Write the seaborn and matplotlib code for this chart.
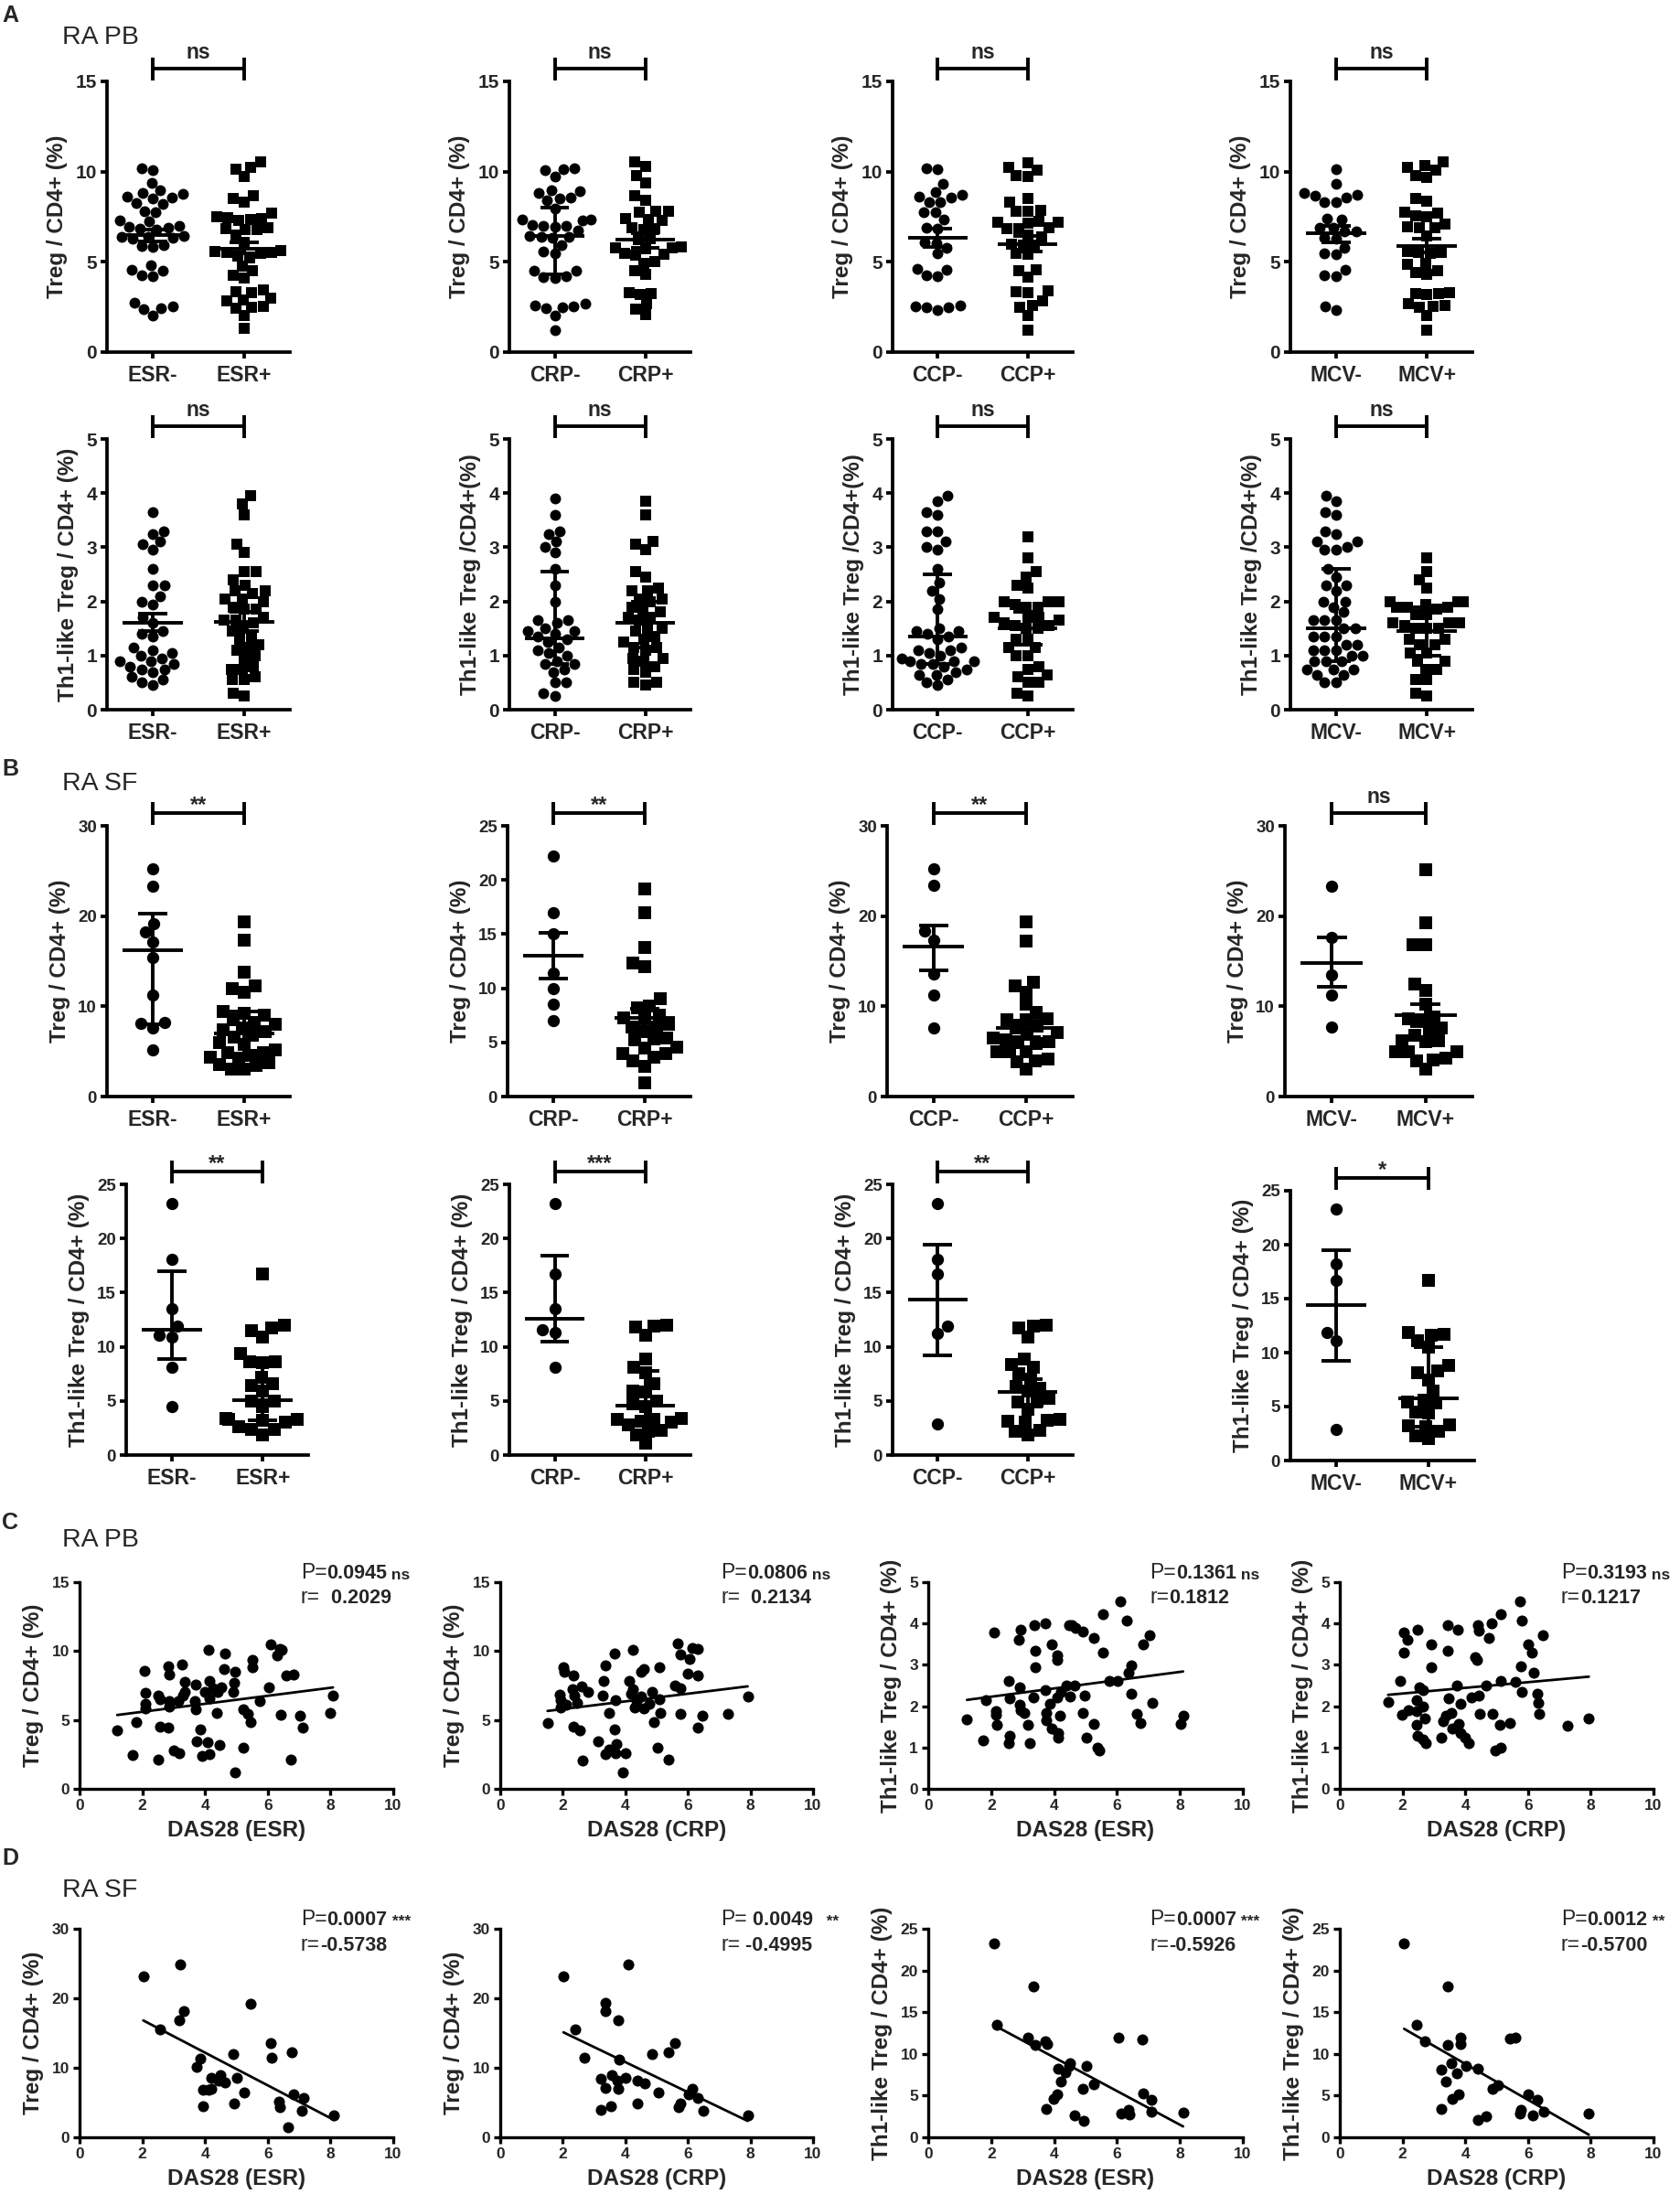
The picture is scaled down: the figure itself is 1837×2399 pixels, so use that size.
import numpy as np
import pandas as pd
import matplotlib
matplotlib.use("Agg")
import matplotlib.pyplot as plt
import seaborn as sns

# ---------------------------------------------------------------- data
categories = [("ESR-", "ESR+"), ("CRP-", "CRP+"), ("CCP-", "CCP+"), ("MCV-", "MCV+")]

# A, row 1: RA PB Treg / CD4+ (%)
pb_treg_esr_neg = [10.2,10.1,9.35,8.95,8.8,8.75,8.6,8.55,8.5,8.25,8.2,7.8,7.75,7.3,7.25,7.0,6.95,6.9,6.85,6.8,6.45,6.4,6.4,6.35,6.3,5.95,5.9,5.85,4.8,4.55,4.5,4.25,4.2,2.75,2.55,2.45,2.4,2.05]
pb_treg_esr_pos = [10.55,10.25,10.15,9.75,8.65,8.5,8.3,7.7,7.5,7.45,7.4,7.35,7.3,6.9,6.85,6.8,6.8,6.5,6.1,5.6,5.55,5.5,5.5,5.45,5.3,5.2,4.75,4.5,4.25,4.1,3.45,3.35,3.3,3.0,2.9,2.85,2.55,2.5,2.45,2.05,1.3]
pb_treg_crp_neg = [10.2,10.15,10.1,9.75,8.95,8.9,8.8,8.55,8.5,8.4,7.95,7.35,7.35,7.3,7.05,7.0,7.0,6.95,6.75,6.45,6.4,6.4,6.35,5.95,5.55,5.45,4.5,4.5,4.2,4.15,4.1,2.7,2.6,2.55,2.5,2.45,2.05,1.2]
pb_treg_crp_pos = [10.55,10.3,9.8,9.4,8.65,8.4,7.8,7.8,7.75,7.4,7.35,7.3,6.9,6.85,6.8,6.3,6.25,5.85,5.8,5.8,5.75,5.45,5.4,5.35,5.0,4.9,4.5,4.3,3.3,3.25,3.2,2.7,2.4,2.1]
pb_treg_ccp_neg = [10.2,10.15,9.3,8.85,8.7,8.6,8.55,8.3,8.3,7.75,7.75,7.35,6.9,6.85,6.1,6.05,5.8,5.45,4.6,4.55,4.25,4.2,2.6,2.55,2.5,2.5,2.35]
pb_treg_ccp_pos = [10.5,10.25,10.1,9.8,9.75,8.5,8.3,7.85,7.8,7.8,7.25,7.2,7.2,7.15,6.9,6.85,6.85,6.5,6.4,6.0,5.95,5.95,5.45,5.4,4.55,4.5,4.15,3.4,3.35,3.3,2.85,2.6,2.5,2.05,1.2]
pb_treg_mcv_neg = [10.15,9.3,8.8,8.7,8.65,8.55,8.3,8.3,7.4,7.35,6.9,6.9,6.7,6.7,6.35,6.3,5.8,5.45,5.4,4.55,4.25,4.2,2.55,2.35]
pb_treg_mcv_pos = [10.55,10.35,10.25,10.1,9.8,9.7,8.5,8.35,7.75,7.7,7.5,7.55,7.1,6.9,6.9,6.95,6.45,5.55,5.5,5.45,5.5,4.9,4.85,4.4,4.3,4.5,3.3,3.25,3.25,3.2,2.6,2.7,2.55,2.5,2.05,1.2]
pb_treg_summary = [(6.5,6.15,6.8),(5.75,5.45,6.1),(6.45,4.3,8.0),(6.25,5.8,6.6),
                   (6.35,5.85,6.85),(6.0,5.55,6.45),(6.6,6.1,7.0),(5.9,5.5,6.3)]
pb_treg_sig = ["ns", "ns", "ns", "ns"]

# A, row 2: RA PB Th1-like Treg / CD4+ (%)
pb_th1_esr_neg = [3.65,3.3,3.25,3.1,3.05,2.95,2.6,2.3,2.3,2.1,2.0,1.95,1.7,1.6,1.45,1.4,1.35,1.15,1.1,1.05,1.0,0.95,0.9,0.9,0.85,0.8,0.75,0.75,0.7,0.6,0.55,0.5,0.45]
pb_th1_esr_pos = [3.95,3.8,3.6,3.05,2.9,2.55,2.55,2.4,2.3,2.2,2.2,2.15,2.05,2.05,2.0,1.9,1.85,1.85,1.7,1.65,1.65,1.6,1.5,1.45,1.35,1.3,1.2,1.15,1.1,1.0,0.95,0.8,0.75,0.75,0.6,0.55,0.55,0.3,0.25]
pb_th1_crp_neg = [3.9,3.6,3.3,3.25,3.1,3.0,2.9,2.6,2.3,2.0,1.65,1.65,1.6,1.5,1.45,1.45,1.4,1.35,1.3,1.25,1.15,1.1,1.05,1.0,0.9,0.85,0.85,0.75,0.7,0.5,0.5,0.3,0.25]
pb_th1_crp_pos = [3.85,3.6,3.1,3.05,2.95,2.55,2.45,2.25,2.2,2.2,2.05,2.05,2.0,1.9,1.85,1.8,1.7,1.7,1.65,1.5,1.5,1.45,1.35,1.3,1.25,1.15,1.15,1.1,0.95,0.95,0.9,0.8,0.75,0.7,0.5,0.5,0.45]
pb_th1_ccp_neg = [3.95,3.85,3.65,3.6,3.3,3.3,3.1,3.0,2.95,2.6,2.35,2.2,2.05,1.85,1.5,1.45,1.45,1.4,1.35,1.3,1.15,1.1,1.1,1.05,1.0,0.95,0.9,0.9,0.9,0.85,0.85,0.8,0.75,0.7,0.65,0.65,0.55,0.5,0.45]
pb_th1_ccp_pos = [3.2,2.8,2.55,2.45,2.3,2.25,2.0,2.0,2.0,1.95,1.9,1.9,1.7,1.7,1.7,1.65,1.6,1.55,1.55,1.5,1.5,1.3,1.3,1.15,1.15,1.0,1.0,0.8,0.75,0.65,0.6,0.5,0.5,0.3,0.25]
pb_th1_mcv_neg = [3.95,3.85,3.65,3.6,3.3,3.25,3.1,3.1,3.0,2.95,2.95,2.6,2.45,2.3,2.3,2.2,2.0,2.0,1.9,1.8,1.65,1.65,1.65,1.5,1.5,1.35,1.35,1.35,1.2,1.2,1.1,1.1,1.1,1.0,1.0,0.9,0.9,0.9,0.75,0.75,0.75,0.65,0.65,0.5,0.5]
pb_th1_mcv_pos = [2.8,2.55,2.4,2.25,2.0,2.0,2.0,1.95,1.9,1.9,1.9,1.85,1.75,1.75,1.6,1.6,1.6,1.55,1.5,1.5,1.5,1.3,1.3,1.2,1.2,1.05,1.05,0.9,0.9,0.75,0.75,0.55,0.55,0.3,0.25]
pb_th1_summary = [(1.6,1.45,1.78),(1.62,1.45,1.8),(1.32,0.85,2.55),(1.6,1.15,2.0),
                  (1.35,0.85,2.5),(1.5,1.2,1.8),(1.5,0.9,2.6),(1.45,1.0,1.9)]
pb_th1_sig = ["ns", "ns", "ns", "ns"]

# B, row 1: RA SF Treg / CD4+ (%)
sf_treg_esr_neg = [25.2,23.3,19.2,18.2,17.1,15.4,11.2,8.2,8.1,7.6,5.2]
sf_treg_esr_pos = [19.4,17.3,13.8,12.3,12.0,11.6,9.4,9.2,9.0,8.5,8.2,8.0,7.6,7.4,7.2,6.8,6.6,6.0,5.8,5.2,4.9,4.9,4.6,4.4,4.2,3.7,3.5,3.4,3.0,3.0]
sf_treg_crp_neg = [22.2,17.0,15.0,11.4,10.0,8.5,7.0]
sf_treg_crp_pos = [19.2,17.0,13.8,12.3,12.0,9.0,8.4,8.2,7.5,7.3,7.3,6.7,6.4,6.4,6.0,5.4,5.3,5.2,4.6,4.5,4.0,4.0,3.6,3.3,2.8,1.3]
sf_treg_ccp_neg = [25.2,23.4,18.3,17.3,13.6,11.2,7.6]
sf_treg_ccp_pos = [19.4,17.2,12.7,12.3,11.6,10.2,9.3,8.6,8.5,8.5,7.8,7.6,7.1,6.9,6.5,6.3,6.1,6.0,5.9,5.0,5.0,5.0,4.2,4.0,3.9,3.0]
sf_treg_mcv_neg = [23.3,17.6,13.5,11.2,7.7]
sf_treg_mcv_pos = [25.1,19.3,16.8,16.8,12.5,11.8,10.2,8.8,8.6,8.5,7.6,7.4,6.8,6.2,6.2,6.1,5.0,5.0,5.0,4.3,4.1,4.0,3.0]
sf_treg_summary = [(16.2,8.0,20.3),(7.0,4.8,9.4),(13.0,10.9,15.1),(7.3,6.5,8.1),
                   (16.6,14.0,19.0),(7.6,6.6,8.4),(14.8,12.2,17.6),(9.0,7.8,10.2)]
sf_treg_sig = ["**", "**", "**", "ns"]

# B, row 2: RA SF Th1-like Treg / CD4+ (%)
sf_th1_esr_neg = [23.2,18.1,13.5,11.9,11.1,10.9,8.1,4.5]
sf_th1_esr_pos = [16.7,12.0,11.7,11.5,10.9,9.4,8.6,8.6,8.5,7.2,6.6,6.4,5.9,5.0,5.0,4.5,3.4,3.3,3.3,3.2,3.0,2.6,2.4,2.4,1.9]
sf_th1_crp_neg = [23.2,16.7,13.5,11.6,11.3,8.1]
sf_th1_crp_pos = [12.0,11.9,11.8,11.1,8.9,8.1,7.6,6.6,5.9,5.8,5.0,4.7,4.5,3.4,3.3,3.3,3.1,3.0,2.8,2.3,2.2,1.9,1.1]
sf_th1_ccp_neg = [23.2,18.1,16.7,11.9,11.2,2.9]
sf_th1_ccp_pos = [12.0,11.9,11.7,10.9,8.9,8.4,8.1,7.5,7.0,6.3,6.2,5.9,5.2,5.0,4.9,4.2,3.3,3.2,3.1,3.0,2.3,2.2,1.9]
sf_th1_mcv_neg = [23.3,18.2,16.7,11.9,11.1,2.9]
sf_th1_mcv_pos = [16.7,11.9,11.7,11.6,11.1,10.5,8.8,8.3,8.1,7.5,6.4,5.6,5.4,5.3,4.5,4.4,3.3,3.2,3.1,2.7,2.3,2.0]
sf_th1_summary = [(11.6,8.9,17.0),(5.1,3.2,8.5),(12.6,10.5,18.4),(4.6,3.0,7.8),
                  (14.4,9.2,19.4),(5.8,4.5,7.0),(14.4,9.2,19.5),(5.8,3.1,10.5)]
sf_th1_sig = ["**", "***", "**", "*"]

# C: RA PB correlations (DAS28, value)
pb_treg_das_esr = [(1.2,4.26),(1.7,2.43),(1.81,4.85),(2.06,8.56),(2.1,7.0),(2.1,6.2),(2.1,5.85),(2.51,2.1),(2.51,6.8),(2.56,6.5),(2.58,4.5),(2.83,4.45),(2.83,8.87),(2.87,8.27),(2.85,6.35),(2.87,6.0),(3.01,2.82),(3.19,2.6),(3.14,6.35),(3.27,9.0),(3.34,7.77),(3.34,7.06),(3.29,6.74),(3.7,7.55),(3.68,6.35),(3.7,5.78),(3.73,3.42),(3.84,4.3),(3.91,2.36),(4.15,2.5),(3.99,7.06),(4.13,6.6),(4.13,7.83),(4.08,3.38),(4.12,10.06),(4.26,7.28),(4.41,7.06),(4.36,5.54),(4.47,3.16),(4.53,7.39),(4.61,8.67),(4.65,9.8),(4.89,7.06),(4.92,7.68),(4.96,8.5),(4.97,1.21),(5.21,2.98),(5.23,5.78),(5.35,5.45),(5.45,4.85),(5.5,9.35),(5.52,8.8),(5.75,6.4),(6.03,7.35),(6.09,10.5),(6.31,9.72),(6.38,10.15),(6.45,10.1),(6.42,5.4),(6.6,8.2),(6.82,8.3),(6.74,2.14),(7.03,5.3),(7.11,4.46),(8.0,5.5),(8.08,6.75)]
pb_treg_das_crp = [(1.51,4.78),(1.89,6.86),(1.94,6.42),(2.11,6.1),(2.02,8.8),(2.06,8.47),(1.94,5.88),(2.3,7.26),(2.37,6.8),(2.35,8.25),(2.35,4.54),(2.55,4.27),(2.47,6.26),(2.6,7.41),(2.8,7.04),(2.63,2.06),(3.3,7.8),(3.27,6.8),(3.36,8.96),(3.14,3.43),(3.36,2.5),(3.47,2.83),(3.47,5.49),(3.67,6.42),(3.65,9.8),(3.65,4.3),(3.7,3.27),(3.68,2.57),(4.0,2.57),(3.91,1.22),(4.13,7.81),(4.17,6.92),(4.25,7.21),(4.25,10.07),(4.3,5.93),(4.37,6.37),(4.5,6.7),(4.5,8.47),(4.6,8.7),(4.6,5.82),(4.77,6.15),(4.85,7.04),(4.9,4.87),(5.03,2.99),(5.08,8.8),(5.08,6.48),(5.11,5.49),(5.37,2.1),(5.59,7.52),(5.66,10.57),(5.75,9.76),(5.76,7.3),(5.75,5.42),(6.05,9.4),(6.0,8.36),(6.14,10.24),(6.31,10.18),(6.31,8.25),(6.31,4.42),(6.45,5.31),(7.29,5.44),(7.91,6.7)]
pb_th1_das_esr = [(1.23,1.68),(1.74,1.18),(1.83,2.14),(2.09,3.78),(2.14,1.89),(2.14,1.79),(2.17,1.55),(2.55,2.62),(2.6,2.18),(2.6,1.28),(2.56,1.11),(2.91,2.46),(2.94,3.86),(2.89,3.61),(2.91,2.04),(2.94,1.9),(3.06,1.83),(3.16,1.55),(3.23,1.11),(3.33,2.21),(3.37,3.97),(3.4,3.34),(3.4,2.94),(3.71,4.0),(3.71,2.4),(3.74,1.83),(3.74,1.66),(3.88,2.05),(3.93,3.5),(3.93,1.47),(4.09,3.22),(4.1,3.12),(4.09,2.21),(4.14,1.35),(4.14,1.24),(4.19,1.77),(4.22,2.35),(4.39,2.51),(4.48,3.95),(4.56,3.97),(4.51,2.23),(4.65,2.49),(4.68,3.89),(4.9,1.83),(4.9,3.81),(4.96,2.25),(5.03,1.25),(5.25,3.64),(5.25,1.56),(5.38,1.0),(5.45,0.93),(5.56,4.22),(5.56,3.3),(5.76,2.62),(6.02,2.62),(6.1,4.54),(6.32,4.06),(6.36,2.82),(6.44,2.99),(6.44,2.29),(6.62,1.81),(6.75,1.59),(6.84,3.49),(7.04,3.71),(7.13,2.09),(8.02,1.57),(8.1,1.76)]
pb_th1_das_crp = [(1.54,2.11),(1.93,2.62),(1.98,1.79),(2.05,3.78),(2.15,3.6),(2.05,3.3),(2.18,1.9),(2.44,2.14),(2.44,1.89),(2.44,1.55),(2.49,3.86),(2.53,2.46),(2.66,2.38),(2.49,1.28),(2.66,1.2),(2.75,1.11),(2.66,1.99),(2.7,1.7),(2.92,3.49),(2.92,2.94),(3.24,1.25),(3.29,1.64),(3.38,1.77),(3.43,3.95),(3.43,3.34),(3.46,2.2),(3.55,1.84),(3.6,1.47),(3.72,2.51),(3.75,3.86),(3.8,1.56),(3.86,1.35),(3.98,1.25),(3.86,2.05),(4.1,1.11),(4.2,2.21),(4.32,3.19),(4.37,3.12),(4.4,3.97),(4.44,3.82),(4.44,2.25),(4.45,1.81),(4.66,2.49),(4.74,3.64),(4.83,4.0),(4.88,1.81),(4.95,0.93),(5.12,1.0),(5.09,1.55),(5.12,4.23),(5.14,2.62),(5.43,1.59),(5.6,2.58),(5.73,4.54),(5.8,4.06),(5.77,2.97),(5.8,2.35),(6.02,3.5),(6.11,3.3),(6.19,2.82),(6.31,2.29),(6.33,2.09),(6.36,1.81),(6.48,3.71),(7.25,1.53),(7.94,1.7)]
pb_p_values = ["0.0945", "0.0806", "0.1361", "0.3193"]
pb_p_sig = ["ns", "ns", "ns", "ns"]
pb_r_values = ["  0.2029", "  0.2134", "0.1812", "0.1217"]

# D: RA SF correlations
sf_treg_das_esr = [(2.03,23.2),(2.58,15.5),(3.21,24.9),(3.18,16.9),(3.33,18.2),(3.73,10.1),(3.85,11.3),(3.95,6.9),(3.95,4.5),(4.12,6.9),(4.19,8.6),(4.19,7.0),(4.42,8.1),(4.5,9.0),(4.64,7.9),(4.9,12.0),(4.93,4.9),(5.02,8.6),(5.24,6.5),(5.45,19.2),(6.08,13.6),(6.13,11.4),(6.36,5.1),(6.39,4.4),(6.66,1.4),(6.77,12.3),(6.82,6.2),(7.08,3.8),(7.13,5.7),(8.11,3.1)]
sf_treg_das_crp = [(2.02,23.2),(2.4,15.5),(2.68,11.5),(3.36,19.4),(3.36,18.1),(3.22,8.4),(3.36,7.1),(3.22,4.0),(3.57,8.9),(3.53,4.5),(3.74,8.1),(3.77,7.0),(3.79,11.2),(3.77,16.9),(4.0,8.6),(4.08,24.9),(4.39,8.1),(4.39,4.9),(4.63,7.8),(4.85,12.0),(5.06,6.5),(5.37,12.2),(5.59,13.6),(5.71,4.4),(5.76,4.9),(6.02,6.2),(6.14,7.0),(6.31,5.7),(6.48,3.8),(7.91,3.1)]
sf_th1_das_esr = [(2.09,23.3),(2.17,13.5),(3.16,11.9),(3.4,11.1),(3.33,18.1),(3.71,11.5),(3.79,11.2),(3.76,3.4),(3.97,4.6),(4.09,5.2),(4.14,8.2),(4.22,6.7),(4.36,7.8),(4.48,8.5),(4.51,8.9),(4.65,2.6),(4.91,5.8),(4.94,2.0),(5.03,8.5),(5.25,6.4),(6.05,12.0),(6.14,2.9),(6.36,3.3),(6.39,2.75),(6.79,11.7),(6.84,5.3),(7.09,4.5),(7.09,3.1),(8.1,3.0)]
sf_th1_das_crp = [(2.05,23.3),(2.44,13.5),(2.7,11.5),(3.24,8.1),(3.24,3.4),(3.38,6.7),(3.43,11.1),(3.43,18.1),(3.55,8.9),(3.6,4.6),(3.72,7.7),(3.8,5.2),(3.86,11.9),(3.86,11.2),(4.03,8.5),(4.4,8.2),(4.4,2.1),(4.66,2.5),(4.88,5.8),(5.05,6.3),(5.43,11.8),(5.6,11.9),(5.73,2.9),(5.77,3.3),(6.02,5.2),(6.16,2.6),(6.31,4.5),(6.5,3.1),(7.94,2.9)]
sf_p_values = ["0.0007", " 0.0049", "0.0007", "0.0012"]
sf_p_sig = ["***", "  **", "***", "**"]
sf_r_values = ["-0.5738", " -0.4995", "-0.5926", "-0.5700"]

# ---------------------------------------------------------------- style
sns.set_theme(style="ticks")
plt.rcParams["font.family"] = ["Liberation Sans", "DejaVu Sans"]
plt.rcParams["axes.edgecolor"] = "black"

W, H, DPI = 1837, 2399, 100
fig = plt.figure(figsize=(W / DPI, H / DPI), dpi=DPI)
fig.patch.set_facecolor("white")


def add_ax(l, t, r, b):
    return fig.add_axes([l / W, 1 - b / H, (r - l) / W, (b - t) / H])


def style_axes(ax, lw, tick_fs):
    sns.despine(ax=ax)
    for s in ("left", "bottom"):
        ax.spines[s].set_linewidth(lw)
        ax.spines[s].set_color("black")
    ax.tick_params(axis="both", direction="out", length=5, width=lw, color="black",
                   labelsize=tick_fs, pad=3)
    for lab in ax.get_yticklabels():
        lab.set_fontweight("bold")
    ax.set_facecolor("white")


def bracket(ax, sig, lw):
    tr = ax.get_xaxis_transform()
    ax.plot([0, 1], [1.047, 1.047], transform=tr, clip_on=False, color="black",
            lw=lw, solid_capstyle="butt")
    for xx in (0, 1):
        ax.plot([xx, xx], [1.003, 1.087], transform=tr, clip_on=False,
                color="black", lw=lw, solid_capstyle="butt")
    if sig == "ns":
        ax.text(0.5, 1.105, sig, transform=tr, ha="center", va="center",
                fontsize=16.5, fontweight="bold")
    else:
        ax.text(0.5, 1.075, sig, transform=tr, ha="center", va="center",
                fontsize=17, fontweight="bold")


def cat_panel(ax, cats, neg, pos, summ, ymax, yticks, ylabel, tick_fs, msize):
    neg_df = pd.DataFrame({"group": [cats[0]] * len(neg), "value": neg})
    pos_df = pd.DataFrame({"group": [cats[1]] * len(pos), "value": pos})
    sns.swarmplot(data=neg_df, x="group", y="value", order=list(cats), color="black",
                  marker="o", size=msize, linewidth=0, ax=ax, warn_thresh=1)
    sns.swarmplot(data=pos_df, x="group", y="value", order=list(cats), color="black",
                  marker="s", size=msize, linewidth=0, ax=ax, warn_thresh=1)
    for i, (c, lo, hi) in enumerate(summ):
        kw = dict(color="black", lw=2.8, zorder=6, solid_capstyle="butt")
        ax.plot([i - 0.33, i + 0.33], [c, c], **kw)
        ax.plot([i - 0.16, i + 0.16], [lo, lo], **kw)
        ax.plot([i - 0.16, i + 0.16], [hi, hi], **kw)
        ax.plot([i, i], [lo, hi], **kw)
    ax.set_xlim(-0.5, 1.5)
    ax.set_ylim(0, ymax)
    ax.set_yticks(yticks)
    ax.set_xlabel("")
    ax.set_ylabel(ylabel, fontsize=17.5, fontweight="bold", labelpad=6)
    style_axes(ax, 2.7, tick_fs)
    ax.set_xticks([0, 1])
    ax.set_xticklabels(list(cats), fontsize=16.5, fontweight="bold")
    ax.tick_params(axis="x", pad=5)


def corr_panel(ax, pts, ymax, yticks, ylabel, xlabel, p, sig, r):
    xs = np.array([q[0] for q in pts])
    ys = np.array([q[1] for q in pts])
    sns.regplot(x=xs, y=ys, ax=ax, ci=None, color="black", truncate=True,
                scatter_kws=dict(s=76, alpha=1, linewidths=0),
                line_kws=dict(lw=2.0))
    ax.set_xlim(0, 10)
    ax.set_ylim(0, ymax)
    ax.set_xticks([0, 2, 4, 6, 8, 10])
    ax.set_yticks(yticks)
    ax.set_xlabel(xlabel, fontsize=17.5, fontweight="bold", labelpad=6)
    ax.set_ylabel(ylabel, fontsize=17.5, fontweight="bold", labelpad=6)
    style_axes(ax, 2.4, 12.5)
    for lab in ax.get_xticklabels():
        lab.set_fontweight("bold")
    for coll in ax.collections:
        coll.set_clip_on(False)
    t1 = ax.text(0.705, 1.045, "P=", transform=ax.transAxes, ha="left", va="center",
                 fontsize=16.5)
    t2 = ax.annotate(p, xy=(1, 0), xycoords=t1, ha="left", va="bottom",
                     fontsize=15.5, fontweight="bold")
    ax.annotate(" " + sig, xy=(1, 0.05), xycoords=t2, ha="left", va="bottom",
                fontsize=12.5, fontweight="bold")
    r1 = ax.text(0.705, 0.925, "r=", transform=ax.transAxes, ha="left", va="center",
                 fontsize=16.5)
    ax.annotate(r, xy=(1, 0), xycoords=r1, ha="left", va="bottom",
                fontsize=15.5, fontweight="bold")


# ---------------------------------------------------------------- A and B rows
cat_rows = [
    dict(top=89, bottom=385, lefts=[117, 557, 976, 1411], rights=[317, 755, 1173, 1610],
         data=[pb_treg_esr_neg, pb_treg_esr_pos, pb_treg_crp_neg, pb_treg_crp_pos,
               pb_treg_ccp_neg, pb_treg_ccp_pos, pb_treg_mcv_neg, pb_treg_mcv_pos],
         summ=pb_treg_summary, sig=pb_treg_sig, ymax=15, yticks=[0, 5, 10, 15],
         ylabels=["Treg / CD4+ (%)"] * 4, tick_fs=15, msize=8.6),
    dict(top=480, bottom=776, lefts=[117, 557, 976, 1411], rights=[317, 755, 1173, 1610],
         data=[pb_th1_esr_neg, pb_th1_esr_pos, pb_th1_crp_neg, pb_th1_crp_pos,
               pb_th1_ccp_neg, pb_th1_ccp_pos, pb_th1_mcv_neg, pb_th1_mcv_pos],
         summ=pb_th1_summary, sig=pb_th1_sig, ymax=5, yticks=[0, 1, 2, 3, 4, 5],
         ylabels=["Th1-like Treg / CD4+ (%)", "Th1-like Treg /CD4+(%)",
                  "Th1-like Treg /CD4+(%)", "Th1-like Treg /CD4+(%)"],
         tick_fs=15, msize=8.6),
    dict(top=903, bottom=1199, lefts=[117, 555, 970, 1405], rights=[317, 755, 1173, 1610],
         data=[sf_treg_esr_neg, sf_treg_esr_pos, sf_treg_crp_neg, sf_treg_crp_pos,
               sf_treg_ccp_neg, sf_treg_ccp_pos, sf_treg_mcv_neg, sf_treg_mcv_pos],
         summ=sf_treg_summary, sig=sf_treg_sig, ymax=None, yticks=None,
         ylabels=["Treg / CD4+ (%)"] * 4, tick_fs=13.5, msize=9.6),
    dict(top=1295, bottom=1591, lefts=[138, 557, 976, 1411], rights=[337, 755, 1173, 1612],
         data=[sf_th1_esr_neg, sf_th1_esr_pos, sf_th1_crp_neg, sf_th1_crp_pos,
               sf_th1_ccp_neg, sf_th1_ccp_pos, sf_th1_mcv_neg, sf_th1_mcv_pos],
         summ=sf_th1_summary, sig=sf_th1_sig, ymax=25, yticks=[0, 5, 10, 15, 20, 25],
         ylabels=["Th1-like Treg / CD4+ (%)"] * 4, tick_fs=13.5, msize=9.6),
]
sf_treg_ymax = [30, 25, 30, 30]
sf_treg_ticks = [[0, 10, 20, 30], [0, 5, 10, 15, 20, 25], [0, 10, 20, 30], [0, 10, 20, 30]]

for ri, row in enumerate(cat_rows):
    for c in range(4):
        top, bottom = row["top"], row["bottom"]
        if ri == 3 and c == 3:
            top, bottom = 1302, 1597
        ax = add_ax(row["lefts"][c], top, row["rights"][c], bottom)
        ymax = row["ymax"] if row["ymax"] is not None else sf_treg_ymax[c]
        yticks = row["yticks"] if row["yticks"] is not None else sf_treg_ticks[c]
        cat_panel(ax, categories[c], row["data"][2 * c], row["data"][2 * c + 1],
                  row["summ"][2 * c:2 * c + 2], ymax, yticks, row["ylabels"][c],
                  row["tick_fs"], row["msize"])
        bracket(ax, row["sig"][c], 2.8)

# ---------------------------------------------------------------- C and D rows
corr_lefts = [87, 547, 1015, 1465]
corr_rights = [430, 889, 1359, 1808]
c_data = [pb_treg_das_esr, pb_treg_das_crp, pb_th1_das_esr, pb_th1_das_crp]
d_data = [sf_treg_das_esr, sf_treg_das_crp, sf_th1_das_esr, sf_th1_das_crp]
xlabels = ["DAS28 (ESR)", "DAS28 (CRP)", "DAS28 (ESR)", "DAS28 (CRP)"]
c_ylabels = ["Treg / CD4+ (%)", "Treg / CD4+ (%)", "Th1-like Treg / CD4+ (%)",
             "Th1-like Treg / CD4+ (%)"]
c_ymax = [15, 15, 5, 5]
c_ticks = [[0, 5, 10, 15], [0, 5, 10, 15], [0, 1, 2, 3, 4, 5], [0, 1, 2, 3, 4, 5]]
d_ymax = [30, 30, 25, 25]
d_ticks = [[0, 10, 20, 30], [0, 10, 20, 30], [0, 5, 10, 15, 20, 25], [0, 5, 10, 15, 20, 25]]

for c in range(4):
    ax = add_ax(corr_lefts[c], 1730, corr_rights[c], 1956)
    corr_panel(ax, c_data[c], c_ymax[c], c_ticks[c], c_ylabels[c], xlabels[c],
               pb_p_values[c], pb_p_sig[c], pb_r_values[c])
    ax = add_ax(corr_lefts[c], 2109, corr_rights[c], 2337)
    corr_panel(ax, d_data[c], d_ymax[c], d_ticks[c], c_ylabels[c], xlabels[c],
               sf_p_values[c], sf_p_sig[c], sf_r_values[c])

# ---------------------------------------------------------------- panel letters
def ftext(x, y, s, **kw):
    fig.text(x / W, 1 - y / H, s, va="center", ha="left", **kw)

ftext(2, 17, "A", fontsize=18, fontweight="bold")
ftext(68, 41, "RA PB", fontsize=20.5)
ftext(2, 841, "B", fontsize=18, fontweight="bold")
ftext(68, 857, "RA SF", fontsize=20.5)
ftext(2, 1665, "C", fontsize=18, fontweight="bold")
ftext(68, 1684, "RA PB", fontsize=20.5)
ftext(2, 2032, "D", fontsize=18, fontweight="bold")
ftext(68, 2067, "RA SF", fontsize=20.5)

fig.savefig("out.png", dpi=DPI, facecolor="white")
